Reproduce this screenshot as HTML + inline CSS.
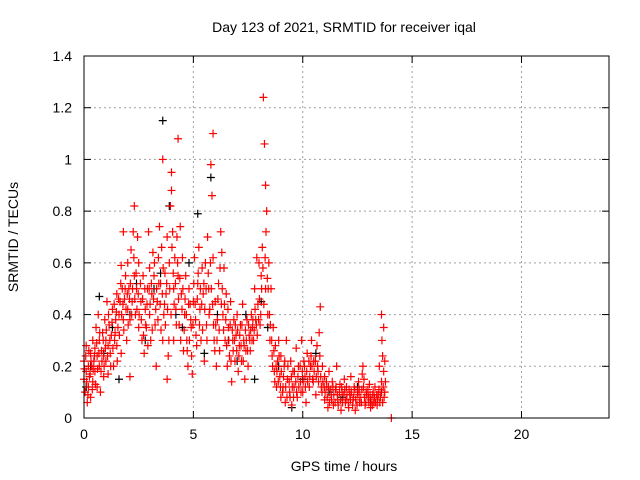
<!DOCTYPE html>
<html><head><meta charset="utf-8"><style>
html,body{margin:0;padding:0;background:#fff;}
svg{display:block;font-family:"Liberation Sans",sans-serif;}
</style></head><body>
<svg id="chart" width="640" height="480" viewBox="0 0 640 480">
<text x="344" y="32" font-size="14" text-anchor="middle">Day 123 of 2021, SRMTID for receiver iqal</text>
<text x="344" y="471" font-size="14" text-anchor="middle">GPS time / hours</text>
<text transform="translate(18,237) rotate(-90)" font-size="14" text-anchor="middle">SRMTID / TECUs</text>
<g id="grid"></g>
<g id="ticks"></g>
<g id="black"></g>
<g id="red"></g>
<rect x="84" y="56" width="525" height="362" fill="none" stroke="#000" stroke-width="1"/>
</svg>
<script>
const xTicks=[0,5,10,15,20];
const yTicks=[0,0.2,0.4,0.6,0.8,1,1.2,1.4];
const yTickLabels=["0","0.2","0.4","0.6","0.8","1","1.2","1.4"];
const blackSamples=[[0.1,0.12],[0.3,0.2],[0.7,0.47],[0.9,0.25],[1.3,0.35],[1.6,0.15],[2.1,0.4],[2.4,0.52],[2.8,0.3],[3.2,0.5],[3.5,0.56],[3.6,1.15],[3.9,0.82],[4.2,0.4],[4.5,0.35],[4.8,0.6],[5.2,0.79],[5.5,0.25],[5.8,0.93],[6.1,0.4],[6.6,0.3],[7,0.22],[7.4,0.4],[7.8,0.15],[8.1,0.45],[8.4,0.35],[8.9,0.2],[9.5,0.04],[10,0.15],[10.6,0.25],[11.2,0.1],[11.8,0.08],[12.5,0.12],[13.1,0.06],[13.6,0.1]];
const redSamples=[
[0,0.15],[0,0.22],[0.05,0.1],[0.1,0.18],[0.1,0.28],[0.15,0.06],[0.2,0.12],[0.2,0.2],[0.25,0.16],[0.3,0.25],[0.3,0.08],[0.35,0.2],[0.4,0.3],[0.4,0.14],[0.45,0.22],[0.5,0.18],[0.5,0.27],[0.55,0.35],[0.6,0.12],[0.6,0.24],[0.65,0.4],[0.7,0.2],[0.7,0.3],[0.75,0.1],[0.8,0.26],[0.85,0.33],[0.9,0.16],[0.9,0.24],[0.95,0.38],[1,0.22],[1,0.3],[1.05,0.45],[1.1,0.17],[1.1,0.28],[1.15,0.36],[1.2,0.25],[1.25,0.32],[1.3,0.42],[1.35,0.2],[1.4,0.3],[1.45,0.38],[1.5,0.48],[1.5,0.28],[1.55,0.35],[1.6,0.4],[1.65,0.45],[1.7,0.25],[1.7,0.59],[1.75,0.5],[1.8,0.38],[1.8,0.72],[1.85,0.46],[1.9,0.55],[1.95,0.3],[2,0.42],[2,0.6],[2.05,0.5],[2.1,0.16],[2.1,0.38],[2.15,0.65],[2.2,0.45],[2.25,0.72],[2.3,0.82],[2.3,0.55],[2.35,0.4],[2.4,0.5],[2.45,0.7],[2.5,0.6],[2.5,0.35],[2.6,0.45],[2.65,0.3],[2.7,0.55],[2.75,0.25],[2.8,0.42],[2.85,0.35],[2.9,0.5],[2.95,0.72],[3,0.58],[3,0.4],[3.05,0.3],[3.1,0.48],[3.15,0.64],[3.2,0.55],[3.25,0.36],[3.3,0.2],[3.35,0.45],[3.4,0.62],[3.45,0.74],[3.5,0.52],[3.55,0.66],[3.6,1.0],[3.6,0.3],[3.65,0.4],[3.7,0.56],[3.75,0.48],[3.8,0.15],[3.8,0.7],[3.85,0.24],[3.9,0.6],[3.95,0.82],[4,0.88],[4,0.95],[4.05,0.72],[4.1,0.5],[4.1,0.3],[4.15,0.62],[4.2,0.42],[4.25,0.7],[4.3,1.08],[4.3,0.55],[4.35,0.36],[4.4,0.74],[4.45,0.48],[4.5,0.62],[4.55,0.26],[4.6,0.4],[4.65,0.55],[4.7,0.3],[4.75,0.2],[4.8,0.5],[4.85,0.44],[4.9,0.35],[4.95,0.17],[5,0.45],[5.05,0.62],[5.1,0.38],[5.15,0.28],[5.2,0.52],[5.25,0.66],[5.3,0.42],[5.35,0.3],[5.4,0.58],[5.45,0.48],[5.5,0.22],[5.55,0.6],[5.6,0.36],[5.65,0.7],[5.7,0.5],[5.75,0.42],[5.8,0.98],[5.85,0.86],[5.9,1.1],[5.9,0.62],[5.95,0.3],[6,0.45],[6.05,0.2],[6.1,0.38],[6.15,0.52],[6.2,0.26],[6.25,0.72],[6.3,0.64],[6.35,0.4],[6.4,0.58],[6.45,0.3],[6.5,0.48],[6.55,0.2],[6.6,0.35],[6.65,0.24],[6.7,0.45],[6.75,0.14],[6.8,0.3],[6.85,0.38],[6.9,0.22],[6.95,0.32],[7,0.4],[7.05,0.18],[7.1,0.28],[7.15,0.36],[7.2,0.22],[7.25,0.44],[7.3,0.3],[7.35,0.15],[7.4,0.26],[7.45,0.38],[7.5,0.2],[7.55,0.32],[7.6,0.26],[7.65,0.4],[7.7,0.35],[7.75,0.3],[7.8,0.5],[7.85,0.38],[7.9,0.62],[7.95,0.44],[8,0.6],[8.05,0.36],[8.1,0.55],[8.15,0.66],[8.2,1.24],[8.25,1.06],[8.3,0.9],[8.3,0.5],[8.35,0.8],[8.4,0.4],[8.45,0.6],[8.5,0.3],[8.55,0.5],[8.6,0.24],[8.65,0.35],[8.7,0.18],[8.75,0.28],[8.8,0.12],[8.85,0.22],[8.9,0.3],[8.95,0.16],[9,0.08],[9,0.24],[9.1,0.12],[9.15,0.2],[9.2,0.06],[9.25,0.3],[9.3,0.15],[9.4,0.1],[9.45,0.22],[9.5,0.05],[9.55,0.18],[9.6,0.12],[9.7,0.27],[9.75,0.08],[9.8,0.2],[9.9,0.14],[9.95,0.3],[10,0.1],[10.05,0.22],[10.1,0.16],[10.15,0.06],[10.2,0.25],[10.3,0.12],[10.35,0.2],[10.4,0.3],[10.45,0.15],[10.5,0.22],[10.6,0.09],[10.65,0.28],[10.7,0.18],[10.75,0.33],[10.8,0.43],[10.85,0.12],[10.9,0.2],[11,0.07],[11,0.16],[11.1,0.12],[11.15,0.04],[11.2,0.18],[11.3,0.09],[11.35,0.14],[11.4,0.05],[11.5,0.11],[11.55,0.2],[11.6,0.07],[11.7,0.13],[11.75,0.03],[11.8,0.1],[11.9,0.15],[11.95,0.06],[12,0.12],[12.1,0.04],[12.15,0.09],[12.2,0.16],[12.3,0.07],[12.35,0.12],[12.4,0.03],[12.5,0.1],[12.55,0.14],[12.6,0.06],[12.7,0.11],[12.75,0.2],[12.8,0.15],[12.85,0.05],[12.9,0.1],[13,0.08],[13.05,0.13],[13.1,0.04],[13.2,0.09],[13.25,0.06],[13.3,0.12],[13.4,0.05],[13.45,0.09],[13.5,0.2],[13.55,0.08],[13.6,0.4],[13.6,0.14],[13.65,0.24],[13.65,0.06],[13.7,0.35],[13.7,0.18],[13.75,0.1],[13.75,0.22],[14.05,0.0]
];
const redSamplesExtra=[
[0.02,0.19],[0.08,0.24],[0.12,0.14],[0.18,0.09],[0.22,0.26],[0.28,0.17],[0.32,0.22],[0.38,0.11],[0.42,0.19],[0.48,0.24],[0.52,0.13],[0.58,0.29],[0.62,0.19],[0.68,0.25],[0.72,0.33],[0.78,0.18],[0.82,0.22],[0.88,0.3],[0.92,0.2],[0.98,0.27],[1.02,0.34],[1.08,0.24],[1.12,0.4],[1.18,0.3],[1.22,0.2],[1.28,0.37],[1.32,0.27],[1.38,0.44],[1.42,0.33],[1.48,0.41],[1.52,0.22],[1.58,0.46],[1.62,0.32],[1.68,0.52],[1.72,0.4],[1.78,0.44],[1.82,0.34],[1.88,0.5],[1.92,0.42],[1.98,0.48],[2.02,0.36],[2.08,0.46],[2.12,0.52],[2.18,0.4],[2.22,0.5],[2.28,0.62],[2.32,0.46],[2.38,0.56],[2.42,0.42],[2.48,0.48],[2.52,0.4],[2.58,0.52],[2.62,0.38],[2.68,0.46],[2.72,0.32],[2.78,0.5],[2.82,0.36],[2.88,0.44],[2.92,0.28],[2.98,0.5],[3.02,0.44],[3.08,0.52],[3.12,0.34],[3.18,0.46],[3.22,0.6],[3.28,0.42],[3.32,0.5],[3.38,0.38],[3.42,0.52],[3.48,0.44],[3.52,0.34],[3.58,0.48],[3.62,0.58],[3.68,0.44],[3.72,0.36],[3.78,0.52],[3.82,0.42],[3.88,0.3],[3.92,0.5],[3.98,0.4],[4.02,0.66],[4.08,0.56],[4.12,0.44],[4.18,0.52],[4.22,0.36],[4.28,0.6],[4.32,0.46],[4.38,0.54],[4.42,0.3],[4.48,0.42],[4.52,0.5],[4.58,0.34],[4.62,0.46],[4.68,0.4],[4.72,0.26],[4.78,0.44],[4.82,0.3],[4.88,0.38],[4.92,0.24],[4.98,0.36],[5.02,0.52],[5.08,0.44],[5.12,0.32],[5.18,0.46],[5.22,0.56],[5.28,0.36],[5.32,0.5],[5.38,0.44],[5.42,0.34],[5.48,0.52],[5.52,0.42],[5.58,0.5],[5.62,0.3],[5.68,0.56],[5.72,0.4],[5.78,0.6],[5.82,0.5],[5.88,0.44],[5.92,0.36],[5.98,0.26],[6.02,0.36],[6.08,0.3],[6.12,0.46],[6.18,0.34],[6.22,0.58],[6.28,0.44],[6.32,0.5],[6.38,0.34],[6.42,0.44],[6.48,0.38],[6.52,0.28],[6.58,0.42],[6.62,0.3],[6.68,0.36],[6.72,0.22],[6.78,0.34],[6.82,0.26],[6.88,0.3],[6.92,0.36],[6.98,0.26],[7.02,0.34],[7.08,0.24],[7.12,0.32],[7.18,0.28],[7.22,0.36],[7.28,0.22],[7.32,0.28],[7.38,0.34],[7.42,0.3],[7.48,0.26],[7.52,0.36],[7.58,0.3],[7.62,0.34],[7.68,0.3],[7.72,0.38],[7.78,0.34],[7.82,0.42],[7.88,0.36],[7.92,0.32],[7.98,0.38],[8.02,0.46],[8.08,0.4],[8.12,0.5],[8.18,0.58],[8.22,0.44],[8.28,0.62],[8.32,0.72],[8.38,0.54],[8.42,0.5],[8.48,0.4],[8.52,0.36],[8.58,0.3],[8.62,0.2],[8.68,0.26],[8.72,0.14],[8.78,0.2],[8.82,0.18],[8.88,0.14],[8.92,0.24],[8.98,0.12],[9.02,0.18],[9.08,0.1],[9.12,0.16],[9.18,0.22],[9.22,0.12],[9.28,0.08],[9.32,0.2],[9.38,0.14],[9.42,0.08],[9.48,0.16],[9.52,0.12],[9.58,0.08],[9.62,0.18],[9.68,0.14],[9.72,0.1],[9.78,0.16],[9.82,0.12],[9.88,0.2],[9.92,0.1],[9.98,0.18],[10.02,0.14],[10.08,0.2],[10.12,0.12],[10.18,0.18],[10.22,0.14],[10.28,0.22],[10.32,0.16],[10.38,0.24],[10.42,0.2],[10.48,0.14],[10.52,0.18],[10.58,0.22],[10.62,0.16],[10.68,0.2],[10.72,0.14],[10.78,0.24],[10.82,0.16],[10.88,0.1],[10.92,0.14],[10.98,0.12],[11.02,0.1],[11.08,0.14],[11.12,0.08],[11.18,0.12],[11.22,0.06],[11.28,0.11],[11.32,0.07],[11.38,0.12],[11.42,0.09],[11.48,0.06],[11.52,0.12],[11.58,0.09],[11.62,0.05],[11.68,0.1],[11.72,0.07],[11.78,0.12],[11.82,0.06],[11.88,0.09],[11.92,0.11],[11.98,0.07],[12.02,0.09],[12.08,0.06],[12.12,0.11],[12.18,0.07],[12.22,0.1],[12.28,0.05],[12.32,0.08],[12.38,0.11],[12.42,0.07],[12.48,0.05],[12.52,0.09],[12.58,0.11],[12.62,0.08],[12.68,0.06],[12.72,0.17],[12.78,0.12],[12.82,0.08],[12.88,0.06],[12.92,0.09],[12.98,0.11],[13.02,0.06],[13.08,0.09],[13.12,0.07],[13.18,0.05],[13.22,0.1],[13.28,0.08],[13.32,0.06],[13.38,0.09],[13.42,0.07],[13.48,0.11],[13.52,0.06],[13.58,0.1],[13.62,0.3],[13.68,0.12],[13.72,0.08],[13.78,0.14]
];
const X=t=>84+t*525/24;
const Y=v=>418-v*362/1.4;
const NS="http://www.w3.org/2000/svg";
function mk(tag,attrs,parent){const e=document.createElementNS(NS,tag);for(const k in attrs)e.setAttribute(k,attrs[k]);parent.appendChild(e);return e;}
const grid=document.getElementById('grid'),ticks=document.getElementById('ticks');
xTicks.forEach(t=>{
  const x=X(t);
  if(t>0){const g=mk('line',{x1:x,y1:56,x2:x,y2:418,stroke:'#a0a0a0','stroke-dasharray':'2,3'},grid);
  
  }
  mk('line',{x1:x,y1:418,x2:x,y2:411,stroke:'#000'},ticks);
  mk('line',{x1:x,y1:56,x2:x,y2:63,stroke:'#000'},ticks);
  const l=mk('text',{x:x,y:439,'font-size':14,'text-anchor':'middle'},ticks);l.textContent=t;
  
  
});
yTicks.forEach((v,i)=>{
  const y=Y(v);
  if(v>0&&v<1.4){const g=mk('line',{x1:84,y1:y,x2:609,y2:y,stroke:'#a0a0a0','stroke-dasharray':'2,3'},grid);
  
  }
  mk('line',{x1:84,y1:y,x2:91,y2:y,stroke:'#000'},ticks);
  mk('line',{x1:609,y1:y,x2:602,y2:y,stroke:'#000'},ticks);
  const l=mk('text',{x:72,y:y+5,'font-size':14,'text-anchor':'end'},ticks);l.textContent=yTickLabels[i];
  
  
});
function plus(g,t,v,c,n){
  const x=X(t),y=Y(v);
  const p=mk('path',{d:`M${x-4},${y}H${x+4}M${x},${y-4}V${y+4}`,stroke:c,'stroke-width':1.2,fill:'none'},g);
  
  
}
const bg=document.getElementById('black'),rg=document.getElementById('red');
blackSamples.forEach(([t,v])=>plus(bg,t,v,'#000','black-point'));
redSamples.forEach(([t,v])=>plus(rg,t,v,'#ff0000','red-point'));
redSamplesExtra.forEach(([t,v])=>plus(rg,t,v,'#ff0000','red-point'));
</script>
</body></html>
